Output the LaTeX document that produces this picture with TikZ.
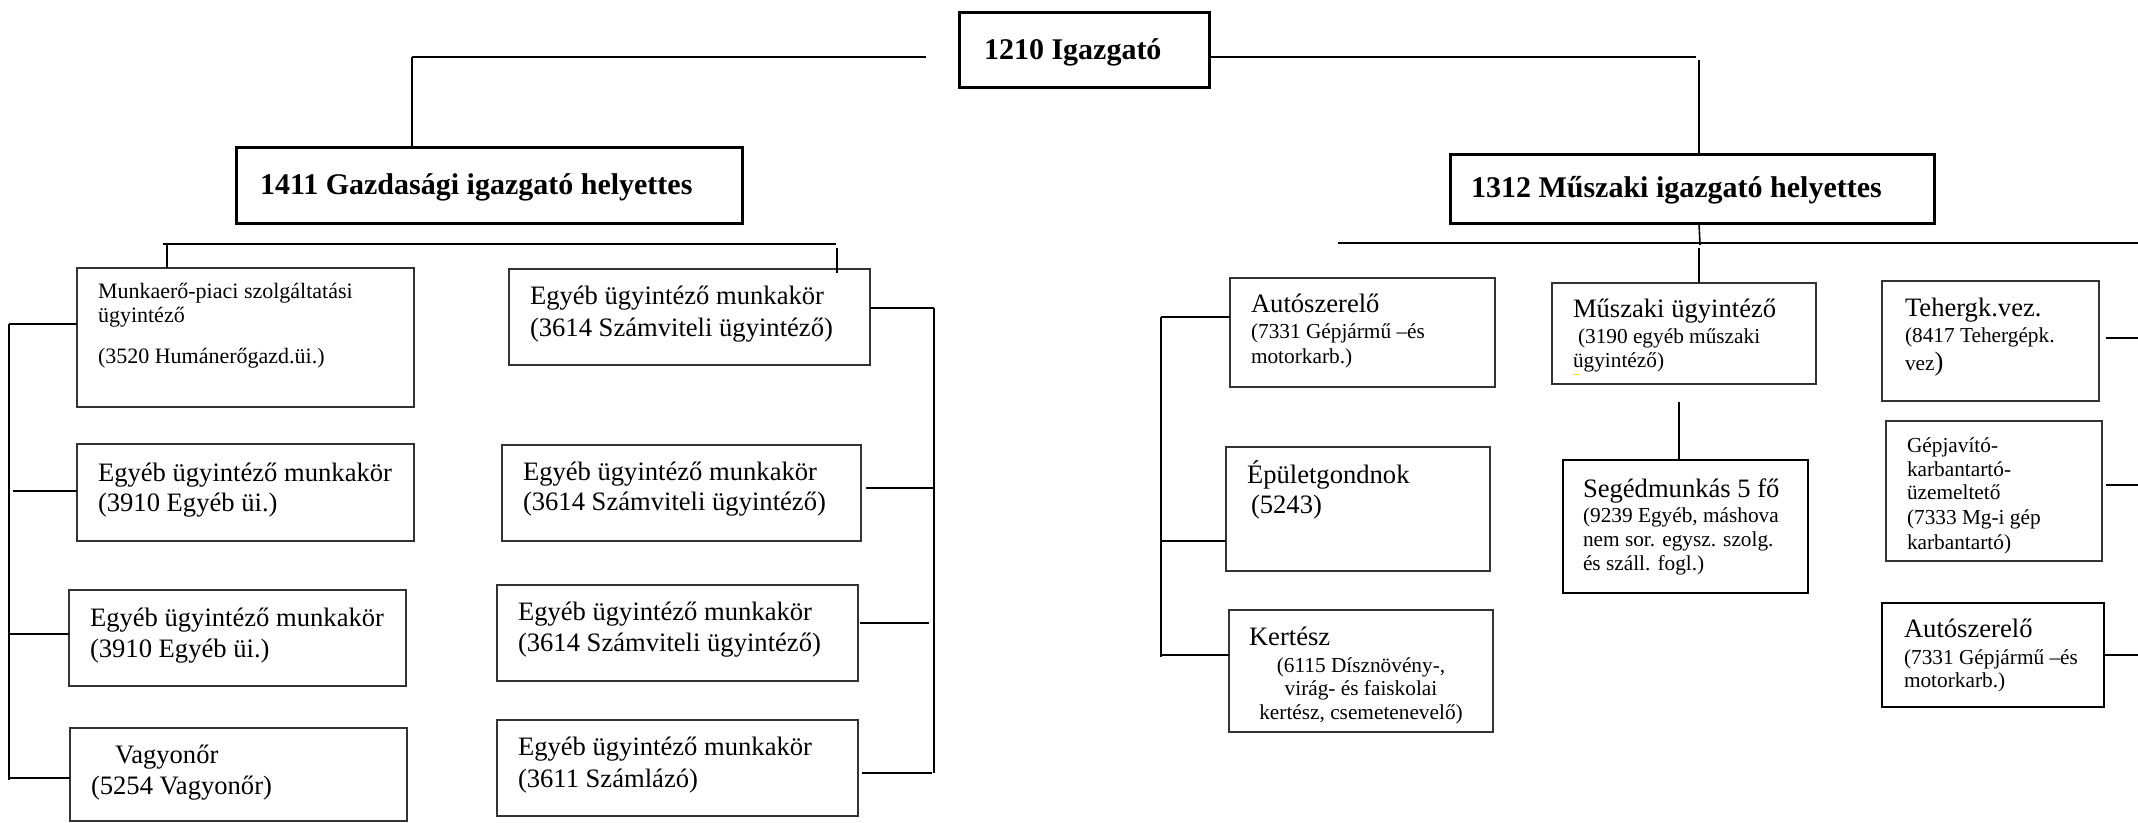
\documentclass[tikz,border=0pt]{standalone}
\usepackage{fontspec}
\setmainfont{Liberation Serif}
\newcommand\myfL{\fontsize{26.6pt}{31pt}\selectfont}
\newcommand\myfS{\fontsize{21.3pt}{24pt}\selectfont}
\newcommand\myfM{\fontsize{22pt}{25pt}\selectfont}
\newcommand\myfB{\fontsize{30pt}{34pt}\selectfont\bfseries}
\begin{document}
\begin{tikzpicture}[x=1pt,y=-1pt,
 box/.style={draw=black!80, line width=1.3pt, anchor=north west, inner sep=0pt, outer sep=0pt},
 bbox/.style={box, draw=black, line width=3pt},
 mbox/.style={box, draw=black, line width=2.3pt},
 conn/.style={draw=black, line width=2.2pt},
 vconn/.style={draw=black, line width=1.6pt},
 lbl/.style={anchor=base west, inner sep=0pt, outer sep=0pt},
 clbl/.style={anchor=base, inner sep=0pt, outer sep=0pt}]
\useasboundingbox (0,0) rectangle (2138,822);

% ---------- boxes ----------
\node[bbox, minimum width=250, minimum height=75] (IG) at (959,12) {};
\node[bbox, minimum width=506, minimum height=76] (GZ) at (236,147) {};
\node[bbox, minimum width=484, minimum height=69] (MH) at (1450,154) {};

\node[box, minimum width=337, minimum height=139] (LB1) at (77,268) {};
\node[box, minimum width=337, minimum height=97] (LB2) at (77,444) {};
\node[box, minimum width=337, minimum height=96] (LB3) at (69,590) {};
\node[box, minimum width=337, minimum height=93] (LB4) at (70,728) {};

\node[box, minimum width=361, minimum height=96] (RB1) at (509,269) {};
\node[box, minimum width=359, minimum height=96] (RB2) at (502,445) {};
\node[box, minimum width=361, minimum height=96] (RB3) at (497,585) {};
\node[box, minimum width=361, minimum height=96] (RB4) at (497,720) {};

\node[box, minimum width=265, minimum height=109] (AU1) at (1230,278) {};
\node[box, minimum width=264, minimum height=124] (EP) at (1226,447) {};
\node[box, minimum width=264, minimum height=122] (KE) at (1229,610) {};
\node[box, minimum width=264, minimum height=101] (MU) at (1552,283) {};
\node[mbox, minimum width=245, minimum height=133] (SM) at (1563,460) {};
\node[box, minimum width=217, minimum height=120] (TG) at (1882,281) {};
\node[box, minimum width=216, minimum height=140] (GJ) at (1886,421) {};
\node[mbox, minimum width=222, minimum height=104] (AU2) at (1882,603) {};

% ---------- texts ----------
\node[lbl, font=\myfB] (tIG) at (984,59) {1210 Igazgató};
\node[lbl, font=\myfB] (tGZ) at (260,194) {1411 Gazdasági igazgató helyettes};
\node[lbl, font=\myfB] (tMH) at (1471,197) {1312 Műszaki igazgató helyettes};

\node[lbl, font=\myfM] (tLB1a) at (98,298) {Munkaerő-piaci szolgáltatási};
\node[lbl, font=\myfM] (tLB1b) at (98,322) {ügyintéző};
\node[lbl, font=\myfM] (tLB1c) at (98,363) {(3520 Humánerőgazd.üi.)};

\node[lbl, font=\myfL] (tLB2a) at (98,481) {Egyéb ügyintéző munkakör};
\node[lbl, font=\myfL] (tLB2b) at (98,511) {(3910 Egyéb üi.)};
\node[lbl, font=\myfL] (tLB3a) at (90,626) {Egyéb ügyintéző munkakör};
\node[lbl, font=\myfL] (tLB3b) at (90,657) {(3910 Egyéb üi.)};
\node[lbl, font=\myfL] (tLB4a) at (115,763) {Vagyonőr};
\node[lbl, font=\myfL] (tLB4b) at (91,794) {(5254 Vagyonőr)};

\node[lbl, font=\myfL] (tRB1a) at (530,304) {Egyéb ügyintéző munkakör};
\node[lbl, font=\myfL] (tRB1b) at (530,336) {(3614 Számviteli ügyintéző)};
\node[lbl, font=\myfL] (tRB2a) at (523,480) {Egyéb ügyintéző munkakör};
\node[lbl, font=\myfL] (tRB2b) at (523,510) {(3614 Számviteli ügyintéző)};
\node[lbl, font=\myfL] (tRB3a) at (518,620) {Egyéb ügyintéző munkakör};
\node[lbl, font=\myfL] (tRB3b) at (518,651) {(3614 Számviteli ügyintéző)};
\node[lbl, font=\myfL] (tRB4a) at (518,755) {Egyéb ügyintéző munkakör};
\node[lbl, font=\myfL] (tRB4b) at (518,787) {(3611 Számlázó)};

\node[lbl, font=\myfL] (tAU1a) at (1251,312) {Autószerelő};
\node[lbl, font=\myfS] (tAU1b) at (1251,338) {(7331 Gépjármű –és};
\node[lbl, font=\myfS] (tAU1c) at (1251,363) {motorkarb.)};

\node[lbl, font=\myfL] (tEPa) at (1247,483) {Épületgondnok};
\node[lbl, font=\myfL] (tEPb) at (1251,513) {(5243)};

\node[lbl, font=\myfL] (tKEa) at (1249,645) {Kertész};
\node[clbl, font=\myfS] (tKEb) at (1361,672) {(6115 Dísznövény-,};
\node[clbl, font=\myfS] (tKEc) at (1361,695) {virág- és faiskolai};
\node[clbl, font=\myfS] (tKEd) at (1361,719) {kertész, csemetenevelő)};

\node[lbl, font=\myfL] (tMUa) at (1573,317) {Műszaki ügyintéző};
\node[lbl, font=\myfS] (tMUb) at (1578,343) {(3190 egyéb műszaki};
\node[lbl, font=\myfS] (tMUc) at (1573,367) {ügyintéző)};

\node[lbl, font=\myfL] (tSMa) at (1583,497) {Segédmunkás 5 fő};
\node[lbl, font=\myfS] (tSMb) at (1583,522) {(9239 Egyéb, máshova};
\node[lbl, font=\myfS] (tSMc) at (1583,546) {nem sor. egysz. szolg.};
\node[lbl, font=\myfS] (tSMd) at (1583,570) {és száll. fogl.)};

\node[lbl, font=\myfL] (tTGa) at (1905,316) {Tehergk.vez.};
\node[lbl, font=\myfS] (tTGb) at (1905,342) {(8417 Tehergépk.};
\node[lbl, font=\myfS] (tTGc) at (1905,370) {vez{\myfL)}};

\node[lbl, font=\myfS] (tGJa) at (1907,452) {Gépjavító-};
\node[lbl, font=\myfS] (tGJb) at (1907,476) {karbantartó-};
\node[lbl, font=\myfS] (tGJc) at (1907,499) {üzemeltető};
\node[lbl, font=\myfS] (tGJd) at (1907,524) {(7333 Mg-i gép};
\node[lbl, font=\myfS] (tGJe) at (1907,549) {karbantartó)};

\node[lbl, font=\myfL] (tAU2a) at (1904,637) {Autószerelő};
\node[lbl, font=\myfS] (tAU2b) at (1904,664) {(7331 Gépjármű –és};
\node[lbl, font=\myfS] (tAU2c) at (1904,687) {motorkarb.)};

% small yellow mark
\draw[yellow!85!orange, line width=1pt] (1573,374) -- (1580,374);

% ---------- connectors: top ----------
\coordinate (igL) at (926,57);
\coordinate (gzT) at (412,147);
\coordinate (gzC) at (412,57);
\draw[conn] (igL) -- (gzC);
\draw[vconn] (gzC) -- (gzT);

\coordinate (igR) at (1696,57);
\draw[conn] (IG.east |- igR) -- (igR);
\coordinate (mhV) at (1699,60);
\draw[vconn] (mhV) -- (mhV |- MH.north);

\coordinate (mhB) at (1699,223);
\coordinate (mhTick) at (1700,245);
\draw[vconn] (mhB) -- (mhTick);

% ---------- Műszaki branch ----------
\coordinate (mbL) at (1338,243);
\coordinate (mbR) at (2138,243);
\draw[conn] (mbL) -- (mbR);
\coordinate (muV) at (1699,248);
\draw[vconn] (muV) -- (muV |- MU.north);
\coordinate (smV) at (1679,402);
\draw[vconn] (smV) -- (smV |- SM.north);

\coordinate (mb1) at (1161,317);
\coordinate (mb2) at (1161,657);
\draw[conn] (mb1) -- (mb2);
\draw[conn] (mb1) -- (mb1 -| AU1.west);
\coordinate (ep0) at (1160,541);
\draw[conn] (ep0) -- (ep0 -| EP.west);
\coordinate (ke0) at (1162,655);
\draw[conn] (ke0) -- (ke0 -| KE.west);

\coordinate (tgS) at (2106,338);
\coordinate (tgR) at (2138,338);
\draw[conn] (tgS) -- (tgR);
\coordinate (gjS) at (2106,485);
\coordinate (gjR) at (2138,485);
\draw[conn] (gjS) -- (gjR);
\coordinate (auR) at (2138,655);
\draw[conn] (AU2.east |- auR) -- (auR);

% ---------- Gazdasági branch ----------
\coordinate (lbL) at (163,244);
\coordinate (lbR) at (836,244);
\draw[conn] (lbL) -- (lbR);
\coordinate (lt1) at (167,244);
\draw[conn] (lt1) -- (lt1 |- LB1.north);
\coordinate (rt1) at (837,248);
\coordinate (rt1b) at (837,273);
\draw[conn] (rt1) -- (rt1b);

\coordinate (lb1) at (9,324);
\coordinate (lbE) at (9,780);
\draw[conn] (lb1) -- (lbE);
\draw[conn] (lb1) -- (lb1 -| LB1.west);
\coordinate (l2) at (13,491);
\draw[conn] (l2) -- (l2 -| LB2.west);
\coordinate (l3) at (10,634);
\draw[conn] (l3) -- (l3 -| LB3.west);
\coordinate (l4) at (10,778);
\draw[conn] (l4) -- (l4 -| LB4.west);

\coordinate (rb1) at (934,308);
\coordinate (rbE) at (934,773);
\draw[conn] (rb1) -- (rbE);
\draw[conn] (RB1.east |- rb1) -- (rb1);
\coordinate (r2s) at (866,488);
\coordinate (r2) at (934,488);
\draw[conn] (r2s) -- (r2);
\coordinate (r3s) at (860,623);
\coordinate (r3) at (929,623);
\draw[conn] (r3s) -- (r3);
\coordinate (r4s) at (862,773);
\coordinate (r4) at (932,773);
\draw[conn] (r4s) -- (r4);
\end{tikzpicture}
\end{document}
